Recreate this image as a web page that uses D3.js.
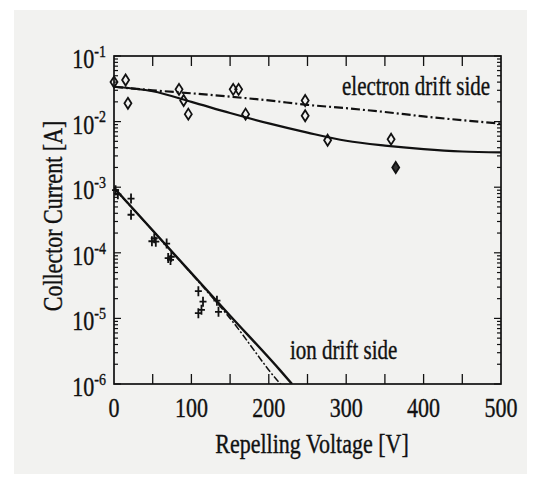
<!DOCTYPE html>
<html>
<head>
<meta charset="utf-8">
<script src="https://cdn.jsdelivr.net/npm/d3@7"></script>
<style>
  body { margin: 0; background: #fff; }
  svg { display: block; }
  text { fill: #111; }
</style>
</head>
<body>
<script>
const width = 533;
const height = 480;

// electron drift side: measured points (diamonds)
const elecV = [0, 15, 18, 84, 90, 96, 154, 161, 170, 247, 247, 276, 358, 364];
const elecI = [0.040, 0.043, 0.019, 0.031, 0.021, 0.013, 0.031, 0.031, 0.013, 0.021, 0.0123, 0.0052, 0.0054, 0.0020];

// electron side fits
const elecFitV = [0, 50, 100, 150, 200, 250, 300, 350, 400, 450, 500];
const elecSolidI = [0.034, 0.029, 0.020, 0.0135, 0.0094, 0.0068, 0.0051, 0.0043, 0.0038, 0.0035, 0.0034];
const elecDashI = [0.034, 0.030, 0.027, 0.024, 0.021, 0.018, 0.016, 0.014, 0.012, 0.0105, 0.0093];

// ion drift side: measured points (crosses)
const ionV = [2, 5, 22, 22, 49, 52, 54, 68, 70, 73, 74, 109, 109, 113, 115, 133, 135];
const ionI = [9.0e-4, 7.8e-4, 6.7e-4, 3.8e-4, 1.5e-4, 1.66e-4, 1.48e-4, 1.38e-4, 8.3e-5, 7.8e-5, 8.7e-5, 2.6e-5, 1.2e-5, 1.35e-5, 1.8e-5, 1.86e-5, 1.26e-5];

// ion side fits
const ionFitV = [0, 100, 150, 215, 230];
const ionSolidI = [9.8e-4, 4.9e-5, 1.1e-5, 1.6e-6, 1.0e-6];
const ionDashI = [9.6e-4, 4.8e-5, 1.0e-5, 1.0e-6, 6.5e-7];

const xTicks = [0, 100, 200, 300, 400, 500];
const yDecades = [-6, -5, -4, -3, -2, -1];

const serif = '"Liberation Serif", "Times New Roman", Times, "DejaVu Serif", serif';

const svg = d3.select('body').append('svg')
  .attr('width', width)
  .attr('height', height);

svg.append('rect')
  .attr('x', 14).attr('y', 10)
  .attr('width', 513).attr('height', 464)
  .attr('fill', '#f2f2f0');

const x = d3.scaleLinear().domain([0, 500]).range([114, 501]);
const y = d3.scaleLog().domain([1e-6, 1e-1]).range([384, 56]);

// text is tall and narrow in the scan, stretch vertically
const stretch = 1.25;
const label = (sel, tx, ty, str, size, anchor, rot) => sel.append('text')
  .attr('transform', `translate(${tx},${ty})${rot ? ' rotate(' + rot + ')' : ''} scale(1,${stretch})`)
  .attr('text-anchor', anchor)
  .attr('font-family', serif)
  .attr('font-size', size)
  .attr('stroke', '#111').attr('stroke-width', 0.3)
  .text(str);

svg.append('clipPath').attr('id', 'plotclip')
  .append('rect')
  .attr('x', x(0)).attr('y', y(1e-1))
  .attr('width', x(500) - x(0)).attr('height', y(1e-6) - y(1e-1));

// x ticks every 50, inward, top and bottom
const xMinor = d3.range(0, 501, 50);
const g = svg.append('g');
g.selectAll('.xtb').data(xMinor.slice(1, -1)).enter().append('line')
  .attr('x1', d => x(d)).attr('x2', d => x(d))
  .attr('y1', y(1e-6)).attr('y2', y(1e-6) - 10)
  .attr('stroke', '#111').attr('stroke-width', 1.3);
g.selectAll('.xtt').data(xMinor.slice(1, -1)).enter().append('line')
  .attr('x1', d => x(d)).attr('x2', d => x(d))
  .attr('y1', y(1e-1)).attr('y2', y(1e-1) + 10)
  .attr('stroke', '#111').attr('stroke-width', 1.3);

// y ticks from log scale, major at decades
const yt = y.ticks();
const isMajor = d => Math.abs(Math.log10(d) - Math.round(Math.log10(d))) < 1e-6;
g.selectAll('.ytl').data(yt).enter().append('line')
  .attr('x1', x(0)).attr('x2', d => x(0) + (isMajor(d) ? 7 : 4))
  .attr('y1', d => y(d)).attr('y2', d => y(d))
  .attr('stroke', '#111').attr('stroke-width', 1.2);
g.selectAll('.ytr').data(yt).enter().append('line')
  .attr('x1', x(500)).attr('x2', d => x(500) - (isMajor(d) ? 7 : 4))
  .attr('y1', d => y(d)).attr('y2', d => y(d))
  .attr('stroke', '#111').attr('stroke-width', 1.2);

// frame
svg.append('rect')
  .attr('x', x(0)).attr('y', y(1e-1))
  .attr('width', x(500) - x(0)).attr('height', y(1e-6) - y(1e-1))
  .attr('fill', 'none').attr('stroke', '#111').attr('stroke-width', 1.7);

// x tick labels
xTicks.forEach(v => label(svg, x(v), 417, String(v), 22, 'middle'));

// y tick labels 10^n
yDecades.forEach(p => {
  const t = svg.append('text')
    .attr('transform', `translate(106,${y(Math.pow(10, p)) + 12}) scale(1,${stretch})`)
    .attr('text-anchor', 'end')
    .attr('font-family', serif)
    .attr('stroke', '#111').attr('stroke-width', 0.3)
    .attr('font-size', 22);
  t.append('tspan').text('10');
  t.append('tspan').attr('dy', -9).attr('font-size', 14).text('-' + Math.abs(p));
});

// axis titles
label(svg, 312, 453, 'Repelling Voltage [V]', 22, 'middle');
label(svg, 62, 216, 'Collector Current [A]', 22, 'middle', -90);

// fits
const line = (vs, is) => d3.line().curve(d3.curveMonotoneX)
  .x((d, i) => x(vs[i])).y((d, i) => y(is[i]))(vs);
const plot = svg.append('g').attr('clip-path', 'url(#plotclip)');

plot.append('path').attr('d', line(elecFitV, elecSolidI))
  .attr('fill', 'none').attr('stroke', '#111').attr('stroke-width', 2.2);
plot.append('path').attr('d', line(elecFitV, elecDashI))
  .attr('fill', 'none').attr('stroke', '#111').attr('stroke-width', 2.2)
  .attr('stroke-dasharray', '9,3,2,3');
plot.append('path').attr('d', line(ionFitV, ionSolidI))
  .attr('fill', 'none').attr('stroke', '#111').attr('stroke-width', 2.4);
plot.append('path').attr('d', line(ionFitV, ionDashI))
  .attr('fill', 'none').attr('stroke', '#111').attr('stroke-width', 1.5)
  .attr('stroke-dasharray', '7,2,2,2');

// diamonds
const diamond = 'M0,-5.5L3.5,0L0,5.5L-3.5,0Z';
svg.append('g').selectAll('path').data(elecV).enter().append('path')
  .attr('transform', (d, i) => `translate(${x(d)},${y(elecI[i])})`)
  .attr('d', diamond)
  .attr('fill', (d, i) => i === elecV.length - 1 ? '#333' : 'none')
  .attr('stroke', '#111').attr('stroke-width', 1.8);

// crosses
const cross = 'M0,-5V5M-3.5,0H3.5';
svg.append('g').selectAll('path').data(ionV).enter().append('path')
  .attr('transform', (d, i) => `translate(${x(d)},${y(ionI[i])})`)
  .attr('d', cross)
  .attr('fill', 'none')
  .attr('stroke', '#111').attr('stroke-width', 1.8);

// annotations
label(svg, 342, 95, 'electron drift side', 21, 'start');
label(svg, 290, 359, 'ion drift side', 21, 'start');
</script>
</body>
</html>
